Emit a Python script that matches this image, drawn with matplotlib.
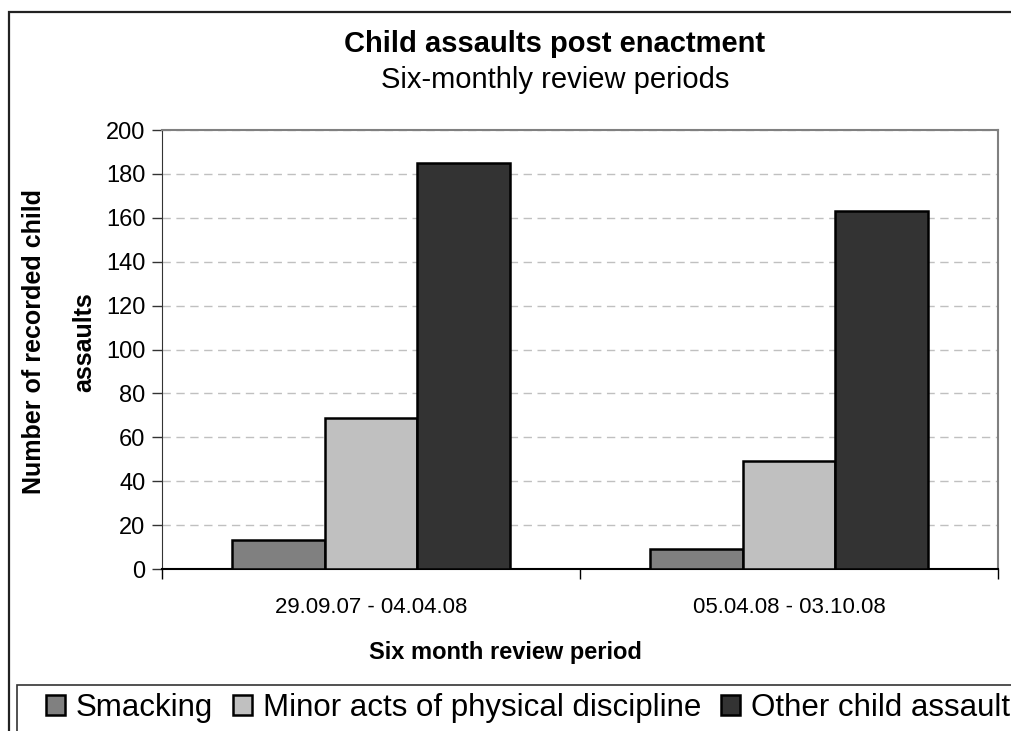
import matplotlib
matplotlib.use('Agg')
import matplotlib.pyplot as plt
import numpy as np
from matplotlib.patches import Rectangle

plt.rcParams['font.family'] = ['Liberation Sans', 'DejaVu Sans']

periods = ['29.09.07 - 04.04.08', '05.04.08 - 03.10.08']
series_names = ['Smacking', 'Minor acts of physical discipline', 'Other child assault']
smacking = [13, 9]
minor_acts = [69, 49]
other_assault = [185, 163]
colours = ['#808080', '#c0c0c0', '#333333']

fig = plt.figure(figsize=(10.11, 7.31), dpi=100)
ax = fig.add_axes([162 / 1011, 1 - 569 / 731, (998 - 162) / 1011, (569 - 130) / 731])

x = np.arange(len(periods))
barwidth = 1 / 4.5
allvals = [smacking, minor_acts, other_assault]
for i, vals in enumerate(allvals):
    ax.bar(x + (i - 1) * barwidth, vals, width=barwidth, color=colours[i],
           edgecolor='black', linewidth=1.8, label=series_names[i], zorder=3)

ax.set_xlim(-0.5, 1.5)
ax.set_ylim(0, 200)
ax.set_yticks(np.arange(0, 201, 20))
ax.set_xticks(x)
ax.set_xticklabels(periods, fontsize=16)
ax.set_xticks([-0.5, 0.5, 1.5], minor=True)
ax.tick_params(axis='x', which='major', length=0, pad=20)
ax.tick_params(axis='x', which='minor', length=7, width=1, color='black', direction='out')
ax.tick_params(axis='y', length=7, width=1, color='#333333', direction='out', labelsize=17, pad=5)
ax.yaxis.grid(True, linestyle=(0, (6, 4)), color='#c0c0c0', linewidth=1, zorder=0)

ax.spines['left'].set_color('#333333')
ax.spines['bottom'].set_color('black')
ax.spines['bottom'].set_linewidth(1.5)
ax.spines['top'].set_color('#808080')
ax.spines['right'].set_color('#808080')
ax.spines['top'].set_linewidth(1.5)
ax.spines['right'].set_linewidth(1.5)

fig.text(555 / 1011, 1 - 52 / 731, 'Child assaults post enactment', fontsize=21,
         fontweight='bold', ha='center', va='baseline')
fig.text(555 / 1011, 1 - 88 / 731, 'Six-monthly review periods', fontsize=21,
         ha='center', va='baseline')
fig.text(505 / 1011, 1 - 652 / 731, 'Six month review period', fontsize=17,
         fontweight='bold', ha='center', va='center')
fig.text(34 / 1011, 1 - 342 / 731, 'Number of recorded child', fontsize=18,
         fontweight='bold', rotation=90, ha='center', va='center')
fig.text(84 / 1011, 1 - 342 / 731, 'assaults', fontsize=18,
         fontweight='bold', rotation=90, ha='center', va='center')

# outer chart border, cut off at right and bottom like the original
fig.patches.append(Rectangle((9 / 1011, -0.1), 1.2, 1.1 - 12 / 731, transform=fig.transFigure,
                             fill=False, edgecolor='#222222', linewidth=1.6))
# legend box, also running off the page
fig.patches.append(Rectangle((17 / 1011, -0.1), 1.2, 0.1 + (731 - 685) / 731, transform=fig.transFigure,
                             fill=False, edgecolor='#333333', linewidth=1.2))

handles, labels = ax.get_legend_handles_labels()
leg = fig.legend(handles, labels, loc='center left', bbox_to_anchor=(46 / 1011, 1 - 708 / 731),
                 ncol=3, fontsize=22.5, frameon=False,
                 handlelength=0.6, handleheight=0.6, handletextpad=0.35, columnspacing=0.64,
                 borderpad=0, borderaxespad=0)

fig.savefig('out.png', dpi=100)
